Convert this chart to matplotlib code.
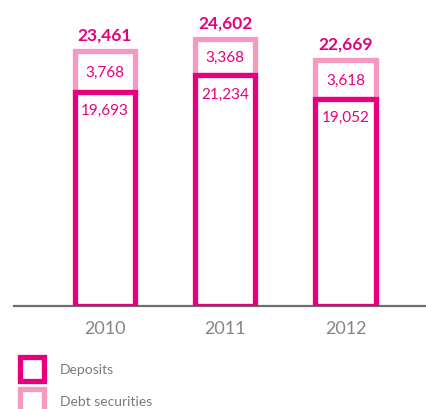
import matplotlib.pyplot as plt
from matplotlib.patches import Rectangle

plt.rcParams['font.family'] = ['Lato', 'DejaVu Sans']

# Data (figures)
years = ['2010', '2011', '2012']
deposits = [19693, 21234, 19052]
debt_securities = [3768, 3368, 3618]
totals = [23461, 24602, 22669]

magenta = '#e6007e'
pink = '#f49ac1'
grey = '#6d6e70'

W, H = 426, 410
fig = plt.figure(figsize=(W / 100, H / 100), dpi=100)
# axes placed in pixel terms: x 14..426, baseline at y=307
ax = fig.add_axes([14 / W, (H - 307) / H, (426 - 14) / W, 307 / H])

x = range(len(years))
bw = 0.5
ax.bar(x, debt_securities, bw, bottom=deposits, facecolor='white',
       edgecolor=pink, linewidth=3.8, zorder=2)
ax.bar(x, deposits, bw, facecolor='white', edgecolor=magenta,
       linewidth=3.8, zorder=3)

for i in x:
    ax.annotate(f'{totals[i]:,}', (i, totals[i]), xytext=(0, 6),
                textcoords='offset points', ha='center', va='bottom',
                color=magenta, fontsize=12.5, fontweight='bold')
    ax.text(i, deposits[i] + debt_securities[i] / 2, f'{debt_securities[i]:,}',
            ha='center', va='center', color=magenta, fontsize=11, zorder=4)
    ax.annotate(f'{deposits[i]:,}', (i, deposits[i]), xytext=(0, -8),
                textcoords='offset points', ha='center', va='top',
                color=magenta, fontsize=11, zorder=4)

ax.set_xlim(-0.758, 2.67)
ax.set_ylim(0, 28270)
for s in ['top', 'right', 'left']:
    ax.spines[s].set_visible(False)
ax.spines['bottom'].set_color(grey)
ax.spines['bottom'].set_linewidth(1.6)
ax.set_yticks([])
ax.set_xticks(list(x))
ax.set_xticklabels(years, color='#858588', fontsize=13)
ax.tick_params(axis='x', length=0, pad=10)

# legend drawn by hand below the axis
for label, col, top in [('Deposits', magenta, 358), ('Debt securities', pink, 390)]:
    fig.add_artist(Rectangle((20 / W, (H - top - 24) / H), 24 / W, 24 / H,
                             transform=fig.transFigure, facecolor='white',
                             edgecolor=col, linewidth=3.8))
    fig.text(60 / W, (H - top - 12) / H, label, ha='left', va='center',
             color='#7a7a7c', fontsize=10)

fig.savefig('out.png', dpi=100)
